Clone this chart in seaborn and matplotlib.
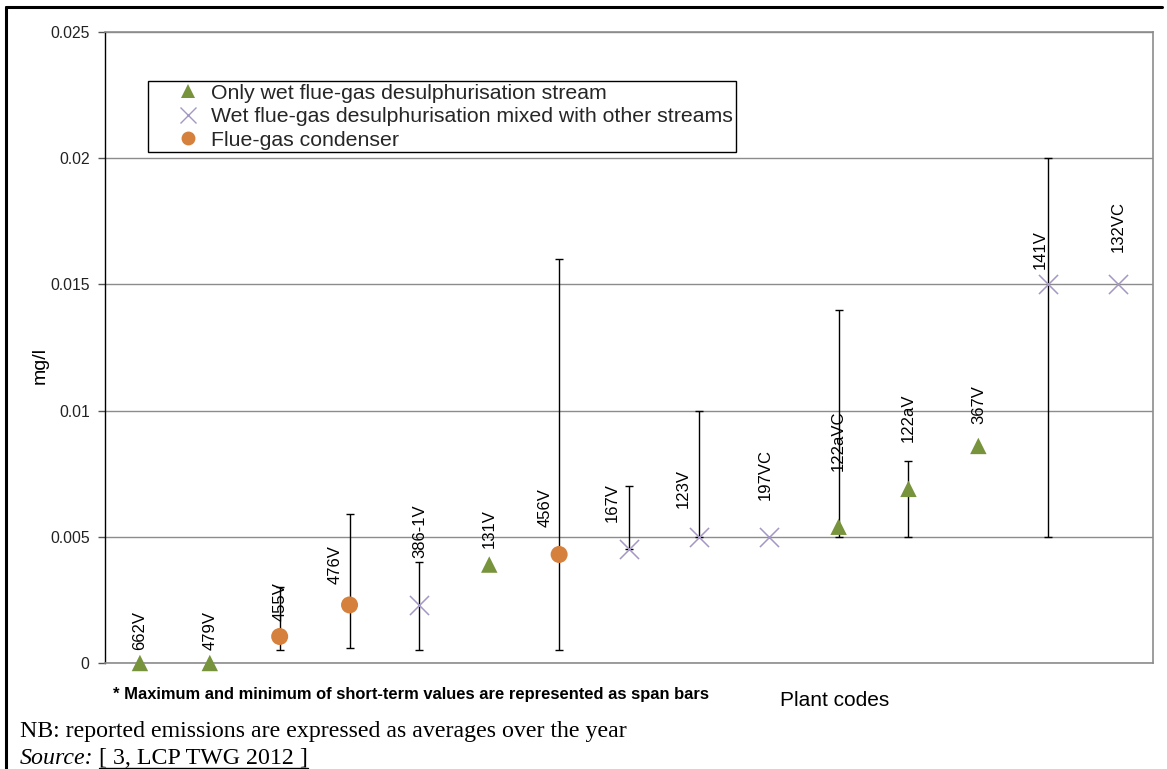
import numpy as np
import pandas as pd
import matplotlib
matplotlib.use("Agg")
import matplotlib.pyplot as plt
import seaborn as sns
from matplotlib.lines import Line2D

# ---------------- data ----------------
codes = ['662V', '479V', '455V', '476V', '386-1V', '131V', '456V', '167V',
         '123V', '197VC', '122aVC', '122aV', '367V', '141V', '132VC']
groups = ['wet', 'wet', 'cond', 'cond', 'mixed', 'wet', 'cond', 'mixed',
          'mixed', 'mixed', 'wet', 'wet', 'wet', 'mixed', 'mixed']
values = [0.0, 0.0, 0.00105, 0.0023, 0.0023, 0.0039, 0.0043, 0.0045,
          0.005, 0.005, 0.0054, 0.0069, 0.0086, 0.015, 0.015]
max_vals = [np.nan, np.nan, 0.003, 0.0059, 0.004, np.nan, 0.016, 0.007,
            0.01, np.nan, 0.014, 0.008, np.nan, 0.02, np.nan]
min_vals = [np.nan, np.nan, 0.0005, 0.0006, 0.0005, np.nan, 0.0005, 0.0045,
            0.005, np.nan, 0.005, 0.005, np.nan, 0.005, np.nan]
legend_labels = {'wet': 'Only wet flue-gas desulphurisation stream',
                 'mixed': 'Wet flue-gas desulphurisation mixed with other streams',
                 'cond': 'Flue-gas condenser'}
y_ticks = [0, 0.005, 0.01, 0.015, 0.02, 0.025]
y_tick_labels = ['0', '0.005', '0.01', '0.015', '0.02', '0.025']

# label offsets in pixels (dx, dy) relative to marker -- layout only
label_offsets = [(0, 13), (0, 13), (0, 15), (-14, 21), (0, 47), (0, 17),
                 (-14, 27), (-17, 27), (-16, 29), (-3, 37), (0, 56),
                 (0, 47), (0, 22), (-8, 15), (0, 32)]

# ---------------- styling ----------------
sns.set_theme(style="white")
plt.rcParams['font.family'] = ['Liberation Sans', 'DejaVu Sans']

palette = {'wet': '#77933C', 'mixed': '#A497C4', 'cond': '#D5803C'}
markers = {'wet': '^', 'mixed': 'x', 'cond': 'o'}
sizes = {'wet': 140, 'mixed': 190, 'cond': 150}

df = pd.DataFrame({'code': codes, 'group': groups, 'value': values,
                   'vmax': max_vals, 'vmin': min_vals})
df['pos'] = np.arange(len(df))

fig = plt.figure(figsize=(11.67, 7.69), dpi=100)
ax = fig.add_axes([105 / 1167, 1 - 663 / 769, (1153 - 105) / 1167, (663 - 32) / 769])

# grid lines
for t in y_ticks:
    ax.axhline(t, color='#8c8c8c', lw=1.0, zorder=0)

# span bars
eb = df.dropna(subset=['vmax'])
ax.errorbar(eb['pos'], eb['value'],
            yerr=[eb['value'] - eb['vmin'], eb['vmax'] - eb['value']],
            fmt='none', ecolor='black', elinewidth=1.0, capsize=3,
            capthick=1.0, zorder=2)

# markers
for g in ['wet', 'mixed', 'cond']:
    sub = df[df['group'] == g]
    kw = dict(edgecolor='none') if g != 'mixed' else dict(linewidth=1.1)
    sns.scatterplot(data=sub, x='pos', y='value', color=palette[g],
                    marker=markers[g], s=sizes[g], ax=ax, zorder=3,
                    legend=False, clip_on=False, **kw)

# data labels
for i, row in df.iterrows():
    dx, dy = label_offsets[i]
    ax.annotate(row['code'], (row['pos'], row['value']),
                xytext=(dx * 0.72, dy * 0.72), textcoords='offset points',
                rotation=90, ha='center', va='bottom', fontsize=12,
                color='black', zorder=4)

ax.set_xlim(-0.5, len(codes) - 0.5)
ax.set_ylim(0, 0.025)
ax.set_xticks([])
ax.set_yticks(y_ticks)
ax.set_yticklabels(y_tick_labels, fontsize=11.3, color='#222222')
ax.tick_params(axis='y', which='both', direction='out', length=5, width=1,
               color='#555555', left=True, pad=6)
ax.set_xlabel('')
ax.set_ylabel('')
for s in ['top', 'right', 'bottom']:
    ax.spines[s].set_color('#8c8c8c')
    ax.spines[s].set_linewidth(1.2)
ax.spines['left'].set_color('black')
ax.spines['left'].set_linewidth(1.0)

# legend
handles = [
    Line2D([], [], ls='none', marker='^', color=palette['wet'], markersize=10,
           markeredgewidth=0),
    Line2D([], [], ls='none', marker='x', color=palette['mixed'],
           markersize=12, markeredgewidth=1.0),
    Line2D([], [], ls='none', marker='o', color=palette['cond'], markersize=10,
           markeredgewidth=0),
]
leg = ax.legend(handles, [legend_labels['wet'], legend_labels['mixed'],
                          legend_labels['cond']],
                loc='upper left', bbox_to_anchor=(43 / 1048, 1 - 49 / 631),
                fontsize=15.3, frameon=True, fancybox=False, framealpha=1,
                edgecolor='black', borderpad=0.12, labelspacing=0.22,
                handletextpad=-0.65, handlelength=3.5, borderaxespad=0)
leg.get_frame().set_linewidth(1.0)

# axis titles and notes
fig.text(40 / 1167, 1 - 366 / 769, 'mg/l', rotation=90, ha='center',
         va='center', fontsize=14, color='black')
fig.text(835 / 1167, 1 - 700 / 769, 'Plant codes', ha='center', va='center',
         fontsize=15, color='black')
fig.text(113 / 1167, 1 - 695 / 769,
         '* Maximum and minimum of short-term values are represented as span bars',
         ha='left', va='center', fontsize=11.9, fontweight='bold',
         color='black')
fig.text(20 / 1167, 1 - 731 / 769,
         'NB: reported emissions are expressed as averages over the year',
         ha='left', va='center', fontsize=17.2, family=['Liberation Serif'],
         color='black')
src = fig.text(20 / 1167, 1 - 758 / 769, 'Source:', ha='left', va='center',
               fontsize=17.2, family=['Liberation Serif'], style='italic',
               color='black')
fig.canvas.draw()
r = fig.canvas.get_renderer()
bb = src.get_window_extent(r)
ref = fig.text((bb.x1 + 5) / 1167, 1 - 758 / 769, '[ 3, LCP TWG 2012 ]',
               ha='left', va='center', fontsize=17.2,
               family=['Liberation Serif'], color='black')
fig.canvas.draw()
bb2 = ref.get_window_extent(r)
fig.add_artist(Line2D([bb2.x0 / 1167, bb2.x1 / 1167],
                      [(bb2.y0 + 1) / 769, (bb2.y0 + 1) / 769],
                      transform=fig.transFigure, color='black', lw=1.0))

# outer frame (top and left)
fig.add_artist(Line2D([5.5 / 1167, 1162 / 1167], [1 - 6.5 / 769, 1 - 6.5 / 769],
                      transform=fig.transFigure, color='black', lw=2.2))
fig.add_artist(Line2D([5.5 / 1167, 5.5 / 1167], [0, 1 - 6.5 / 769],
                      transform=fig.transFigure, color='black', lw=2.2))

fig.savefig('out.png', dpi=100)
